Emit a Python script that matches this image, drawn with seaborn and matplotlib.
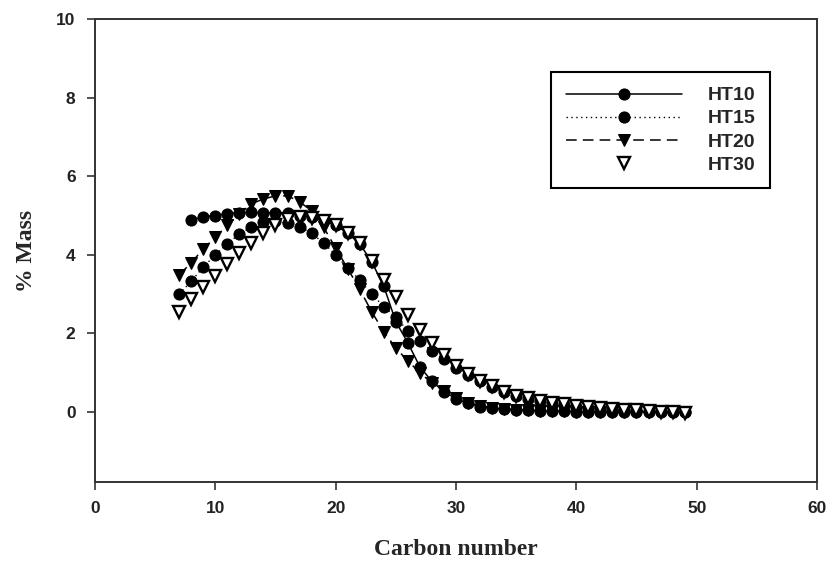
import numpy as np
import pandas as pd
import seaborn as sns
import matplotlib
matplotlib.use("Agg")
import matplotlib.pyplot as plt

# Carbon number distributions
carbon = list(range(7, 50))
carbon_ht10 = list(range(8, 50))

ht10 = [4.88, 4.97, 5.00, 5.05, 5.07, 5.08, 5.07, 5.07, 5.06, 5.00,
        4.96, 4.88, 4.75, 4.55, 4.28, 3.82, 3.20, 2.30, 1.76, 1.15,
        0.78, 0.52, 0.34, 0.22, 0.14, 0.10, 0.07, 0.05, 0.04, 0.03,
        0.02, 0.02, 0.01, 0.01, 0.00, 0.00, 0.00, 0.00, 0.00, 0.00,
        0.00, 0.00]
ht15 = [3.00, 3.33, 3.69, 4.00, 4.28, 4.53, 4.71, 4.84, 4.85, 4.80,
        4.72, 4.55, 4.30, 4.00, 3.66, 3.36, 3.00, 2.68, 2.42, 2.06,
        1.80, 1.55, 1.35, 1.12, 0.95, 0.78, 0.63, 0.50, 0.40, 0.33,
        0.27, 0.22, 0.18, 0.14, 0.11, 0.09, 0.07, 0.05, 0.04, 0.03,
        0.02, 0.01, 0.00]
ht20 = [3.49, 3.80, 4.15, 4.45, 4.75, 5.04, 5.30, 5.42, 5.50, 5.50,
        5.35, 5.12, 4.70, 4.17, 3.65, 3.12, 2.55, 2.04, 1.63, 1.30,
        1.00, 0.74, 0.53, 0.36, 0.24, 0.16, 0.11, 0.08, 0.06, 0.04,
        0.03, 0.02, 0.02, 0.01, 0.00, 0.00, 0.00, 0.00, 0.00, 0.00,
        0.00, 0.00, 0.00]
ht30 = [2.55, 2.88, 3.18, 3.46, 3.77, 4.05, 4.30, 4.55, 4.76, 4.90,
        4.96, 4.94, 4.87, 4.76, 4.55, 4.30, 3.85, 3.36, 2.92, 2.47,
        2.09, 1.75, 1.45, 1.18, 0.97, 0.80, 0.65, 0.52, 0.42, 0.35,
        0.29, 0.24, 0.20, 0.16, 0.13, 0.10, 0.08, 0.06, 0.04, 0.03,
        0.01, 0.00, -0.02]

sns.set_style("ticks")
plt.rcParams["font.family"] = ["Liberation Sans", "DejaVu Sans"]

fig = plt.figure(figsize=(8.29, 5.62), dpi=100)
ax = fig.add_axes([95 / 829, 80 / 562, 722 / 829, 463 / 562])

ms = 8
sns.lineplot(x=carbon_ht10, y=ht10, ax=ax, color="black", linestyle="-", linewidth=1.1,
             marker="o", markersize=ms, markeredgecolor="black", label="HT10")
sns.lineplot(x=carbon, y=ht15, ax=ax, color="black", linestyle=(0, (1, 2.5)), linewidth=1.0,
             marker="o", markersize=ms, markeredgecolor="black", label="HT15")
sns.lineplot(x=carbon, y=ht20, ax=ax, color="black", linestyle=(0, (7, 4)), linewidth=1.1,
             marker="v", markersize=ms + 0.5, markeredgecolor="black", label="HT20")
sns.lineplot(x=carbon, y=ht30, ax=ax, color="black", linestyle="", linewidth=0,
             marker="v", markersize=ms, markerfacecolor="white", markeredgecolor="black",
             markeredgewidth=1.7, label="HT30")

ax.set_xlim(0, 60)
ax.set_ylim(-1.78, 10)
ax.set_xticks([0, 10, 20, 30, 40, 50, 60])
ax.set_yticks([0, 2, 4, 6, 8, 10])
for s in ax.spines.values():
    s.set_visible(True)
    s.set_linewidth(1.4)
    s.set_color("#333333")
ax.tick_params(direction="out", length=6, width=1.2, color="#333333",
               labelsize=12.5, pad=8)
for lab in ax.get_xticklabels() + ax.get_yticklabels():
    lab.set_fontweight("bold")
    lab.set_color("#222222")

ax.set_xlabel("Carbon number", family=["Liberation Serif", "DejaVu Serif"],
              fontsize=17, fontweight="bold", labelpad=16)
ax.set_ylabel("% Mass", family=["Liberation Serif", "DejaVu Serif"],
              fontsize=17, fontweight="bold", labelpad=14)

leg = ax.legend(loc="upper right", bbox_to_anchor=(0.935, 0.885), borderaxespad=0,
                frameon=True, fancybox=False, framealpha=1, edgecolor="black",
                handlelength=6.0, handletextpad=1.3, borderpad=0.75, labelspacing=0.28,
                prop={"family": "Liberation Sans", "weight": "bold", "size": 14})
leg.get_frame().set_linewidth(1.5)

fig.savefig("out.png", dpi=100, facecolor="white")
